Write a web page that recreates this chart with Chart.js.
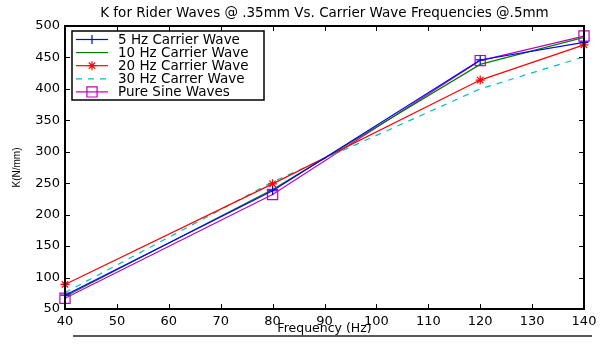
<!DOCTYPE html>
<html>
<head>
<meta charset="utf-8">
<script src="https://cdn.jsdelivr.net/npm/chart.js@4"></script>
<style>
  html, body { margin: 0; padding: 0; background: #fff; }
</style>
</head>
<body>
<canvas id="kChart" width="607" height="345"></canvas>
<script>
// carrier wave frequency (Hz) and measured stiffness K (N/mm)
const frequencies = [40, 80, 120, 140];
const carrier5Hz = [72, 238, 446, 474];
const carrier10Hz = [70, 240, 439, 482];
const carrier20Hz = [89, 249, 414, 470];
const carrier30Hz = [76, 252, 400, 451];
const pureSine = [67, 232, 445, 484];

const xTicks = [40, 50, 60, 70, 80, 90, 100, 110, 120, 130, 140];
const yTicks = [50, 100, 150, 200, 250, 300, 350, 400, 450, 500];

const FONT = 'DejaVu Sans';

const toPoints = vals => vals.map((v, i) => ({ x: frequencies[i], y: v }));

// MATLAB-like box with inward ticks on all four sides
const matlabAxes = {
    id: 'matlabAxes',
    afterDatasetsDraw(chart) {
        const { ctx, chartArea: a, scales: { x, y } } = chart;
        ctx.save();
        ctx.strokeStyle = '#000';
        ctx.lineWidth = 1;
        ctx.beginPath();
        xTicks.forEach(v => {
            const px = Math.round(x.getPixelForValue(v)) + 0.5;
            ctx.moveTo(px, a.bottom); ctx.lineTo(px, a.bottom - 5);
            ctx.moveTo(px, a.top); ctx.lineTo(px, a.top + 5);
        });
        yTicks.forEach(v => {
            const py = Math.round(y.getPixelForValue(v)) + 0.5;
            ctx.moveTo(a.left, py); ctx.lineTo(a.left + 5, py);
            ctx.moveTo(a.right, py); ctx.lineTo(a.right - 5, py);
        });
        ctx.stroke();
        ctx.lineWidth = 2;
        ctx.strokeRect(Math.round(a.left), Math.round(a.top),
            Math.round(a.right) - Math.round(a.left), Math.round(a.bottom) - Math.round(a.top));

        // rule under the figure
        ctx.lineWidth = 1.5;
        ctx.strokeStyle = '#222';
        ctx.beginPath();
        ctx.moveTo(73, 336);
        ctx.lineTo(592, 336);
        ctx.stroke();
        ctx.restore();
    }
};

// boxed legend inside the plot, upper left
const boxLegend = {
    id: 'boxLegend',
    afterDraw(chart) {
        const { ctx } = chart;
        const left = 72, top = 31, right = 264, bottom = 100;
        ctx.save();
        ctx.fillStyle = '#fff';
        ctx.fillRect(left, top, right - left, bottom - top);
        ctx.strokeStyle = '#000';
        ctx.lineWidth = 1.5;
        ctx.strokeRect(left, top, right - left, bottom - top);

        ctx.font = '13.5px "' + FONT + '"';
        ctx.textBaseline = 'middle';
        chart.data.datasets.forEach((ds, i) => {
            const cy = 39.5 + i * 13.1;
            ctx.strokeStyle = ds.borderColor;
            ctx.lineWidth = ds.borderWidth;
            ctx.setLineDash(ds.borderDash || []);
            ctx.beginPath();
            ctx.moveTo(76, cy);
            ctx.lineTo(108, cy);
            ctx.stroke();
            ctx.setLineDash([]);
            if (ds.pointStyle && ds.pointRadius > 0) {
                ctx.fillStyle = 'rgba(0,0,0,0)';
                Chart.helpers.drawPoint(ctx, {
                    pointStyle: ds.pointStyle,
                    radius: ds.pointRadius,
                    rotation: 0,
                    borderWidth: ds.pointBorderWidth
                }, 92, cy);
            }
            ctx.fillStyle = '#000';
            ctx.fillText(ds.label, 118, cy + 0.5);
        });
        ctx.restore();
    }
};

const lineSet = (label, vals, color, extra) => Object.assign({
    label,
    data: toPoints(vals),
    borderColor: color,
    backgroundColor: color,
    borderWidth: 1.2,
    pointBorderColor: color,
    pointBackgroundColor: 'rgba(0,0,0,0)',
    pointBorderWidth: 1.2,
    pointRadius: 0,
    tension: 0,
    clip: false
}, extra);

const datasets = [
    lineSet('5 Hz Carrier Wave', carrier5Hz, '#0000ff', { pointStyle: 'cross', pointRadius: 4.5 }),
    lineSet('10 Hz Carrier Wave', carrier10Hz, '#008000'),
    lineSet('20 Hz Carrier Wave', carrier20Hz, '#ff0000', { pointStyle: 'star', pointRadius: 4.5 }),
    lineSet('30 Hz Carrer Wave', carrier30Hz, '#00bfbf', { borderDash: [6, 6] }),
    lineSet('Pure Sine Waves', pureSine, '#bf00bf', { pointStyle: 'rect', pointRadius: 7.2 })
];

new Chart(document.getElementById('kChart'), {
    type: 'line',
    data: { datasets },
    options: {
        responsive: false,
        animation: false,
        events: [],
        layout: { padding: { left: 0, right: 23, top: 0, bottom: 0 } },
        plugins: {
            legend: { display: false },
            tooltip: { enabled: false },
            title: {
                display: true,
                fullSize: false,
                text: 'K for Rider Waves @ .35mm Vs. Carrier Wave Frequencies @.5mm',
                color: '#000',
                font: { family: FONT, size: 13.5, weight: 'normal' },
                padding: { top: 5, bottom: 4.8 }
            }
        },
        scales: {
            x: {
                type: 'linear',
                min: 40,
                max: 140,
                afterFit: s => { s.height = 36; },
                grid: { display: false, drawTicks: false },
                border: { display: false },
                ticks: {
                    stepSize: 10,
                    autoSkip: false,
                    maxRotation: 0,
                    padding: 5,
                    color: '#000',
                    font: { family: FONT, size: 13 }
                },
                title: {
                    display: true,
                    text: 'Frequency (Hz)',
                    color: '#000',
                    font: { family: FONT, size: 12.5 },
                    padding: { top: 0, bottom: 9 }
                }
            },
            y: {
                min: 50,
                max: 500,
                afterFit: s => { s.width = 65; },
                grid: { display: false, drawTicks: false },
                border: { display: false },
                ticks: {
                    stepSize: 50,
                    padding: 5,
                    color: '#000',
                    font: { family: FONT, size: 13 }
                },
                title: {
                    display: true,
                    text: 'K(N/mm)',
                    color: '#000',
                    font: { family: 'Liberation Sans', size: 10 },
                    padding: { top: 11, bottom: 0 }
                }
            }
        }
    },
    plugins: [matlabAxes, boxLegend]
});
</script>
</body>
</html>
